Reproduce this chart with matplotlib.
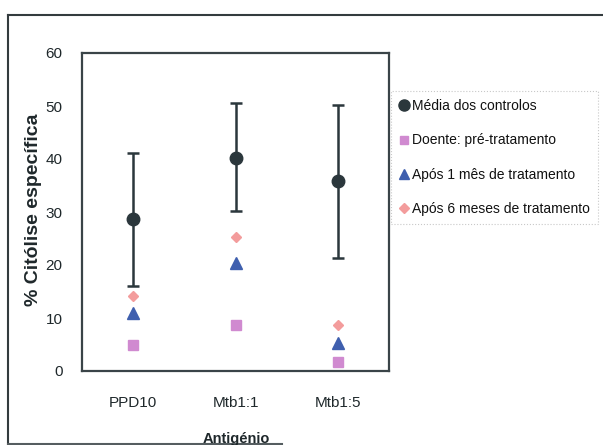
import matplotlib
matplotlib.use("Agg")
import matplotlib.pyplot as plt
from matplotlib.lines import Line2D

plt.rcParams['font.family'] = ['Liberation Sans', 'DejaVu Sans']

# dados
antigenios = ["PPD10", "Mtb1:1", "Mtb1:5"]
media_controlos = [28.6, 40.1, 35.9]
erro_sup = [41.1, 50.5, 50.2]
erro_inf = [16.0, 30.1, 21.4]
pre_tratamento = [4.9, 8.6, 1.7]
apos_1_mes = [11.0, 20.3, 5.3]
apos_6_meses = [14.2, 25.2, 8.6]
y_ticks = [0, 10, 20, 30, 40, 50, 60]

# cores
c_media = "#2b373c"
c_pre = "#d08ad0"
c_1mes = "#3f5fae"
c_6meses = "#f39c9c"
c_texto = "#1f282b"

W, H = 603, 445
fig = plt.figure(figsize=(W / 100, H / 100), dpi=100)
ax = fig.add_axes([82 / W, 1 - 371 / H, (389 - 82) / W, (371 - 53) / H])

x = [i + 0.5 for i in range(len(antigenios))]
yerr = [[m - lo for m, lo in zip(media_controlos, erro_inf)],
        [hi - m for m, hi in zip(media_controlos, erro_sup)]]

ax.errorbar(x, media_controlos, yerr=yerr, fmt="o", color=c_media, ms=9,
            elinewidth=1.8, capsize=4.5, capthick=1.8, zorder=3)
ax.plot(x, pre_tratamento, "s", color=c_pre, ms=6.5, zorder=3)
ax.plot(x, apos_1_mes, "^", color=c_1mes, ms=8, zorder=3)
ax.plot(x, apos_6_meses, "D", color=c_6meses, ms=5.5, zorder=3)

ax.set_xlim(0, 3)
ax.set_ylim(0, 60)
ax.set_xticks(x)
ax.set_xticklabels(antigenios)
ax.set_yticks(y_ticks)
ax.tick_params(axis="both", length=0, labelsize=11, colors=c_texto)
ax.tick_params(axis="y", pad=14)
ax.tick_params(axis="x", pad=18)
for s in ax.spines.values():
    s.set_color("#3a4448")
    s.set_linewidth(1.6)

fig.text(34 / W, 1 - 210 / H, "% Citólise específica", rotation=90,
         ha="center", va="center", fontsize=14, fontweight="bold",
         color=c_texto)
fig.text(236 / W, 1 - 439 / H, "Antigénio", ha="center", va="center",
         fontsize=10.5, fontweight="bold", color=c_texto)

# moldura exterior
fig.add_artist(Line2D([8 / W, 8 / W], [1 - 15 / H, 1 - 444 / H], color="#333b3e", lw=1.5))
fig.add_artist(Line2D([8 / W, 1], [1 - 15 / H, 1 - 15 / H], color="#333b3e", lw=1.5))
fig.add_artist(Line2D([8 / W, 282 / W], [1 - 444 / H, 1 - 444 / H], color="#555d60", lw=1.5))

# legenda
handles = [
    Line2D([], [], marker="o", ls="", color=c_media, ms=8),
    Line2D([], [], marker="s", ls="", color=c_pre, ms=6),
    Line2D([], [], marker="^", ls="", color=c_1mes, ms=7),
    Line2D([], [], marker="D", ls="", color=c_6meses, ms=5),
]
labels = ["Média dos controlos", "Doente: pré-tratamento",
          "Após 1 mês de tratamento", "Após 6 meses de tratamento"]
leg = fig.legend(handles, labels, loc="upper left",
                 bbox_to_anchor=(391 / W, 1 - 91 / H), fontsize=10,
                 handlelength=0.6, handletextpad=0.3, labelspacing=1.45,
                 borderpad=0.6, borderaxespad=0, frameon=True, fancybox=False,
                 labelcolor="#111111")
leg.get_frame().set_edgecolor("#bbbbbb")
leg.get_frame().set_linestyle(":")
leg.get_frame().set_linewidth(0.8)

fig.savefig("out.png", dpi=100)
